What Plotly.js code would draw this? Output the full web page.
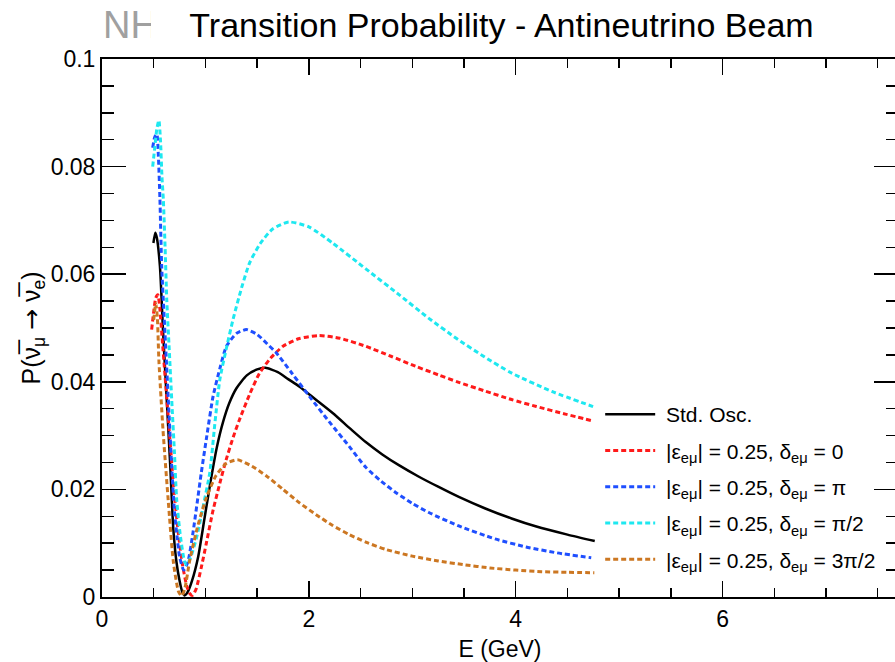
<!DOCTYPE html>
<html>
<head>
<meta charset="utf-8">
<script src="https://cdn.plot.ly/plotly-3.0.1.min.js"></script>
<style>
html,body{margin:0;padding:0;overflow:hidden;background:#fff;}
#chart{width:898px;height:662px;}
</style>
</head>
<body>
<div id="chart"></div>
<script>
// ---- Data (E in GeV, P probability) ----
const stdE = [0.497,0.515,0.53,0.56,0.59,0.625,0.66,0.69,0.72,0.75,0.775,0.80,0.83,0.87,0.93,0.99,1.05,1.11,1.17,1.23,1.30,1.40,1.50,1.58,1.70,1.80,1.91,2.06,2.23,2.40,2.55,2.71,2.87,3.06,3.25,3.45,3.70,3.96,4.20,4.50,4.764];
const stdP = [0.0658,0.0677,0.0668,0.0615,0.0495,0.037,0.0243,0.0125,0.0065,0.003,0.001,0.0003,0.001,0.003,0.0075,0.0145,0.0215,0.0278,0.0325,0.036,0.0388,0.0412,0.0423,0.0426,0.0418,0.0405,0.0391,0.0368,0.0342,0.0313,0.0288,0.0265,0.0245,0.0224,0.0205,0.0186,0.0165,0.0146,0.0131,0.0116,0.0104];

const d0E = [0.48,0.50,0.52,0.54,0.56,0.58,0.61,0.64,0.67,0.70,0.74,0.78,0.82,0.85,0.875,0.91,0.96,1.01,1.07,1.14,1.20,1.27,1.33,1.43,1.52,1.63,1.75,1.90,2.10,2.30,2.55,2.80,3.03,3.25,3.45,3.70,3.96,4.20,4.48,4.75];
const d0P = [0.0497,0.053,0.0556,0.0562,0.0535,0.0485,0.041,0.0335,0.026,0.019,0.0115,0.0058,0.002,0.0006,0.0003,0.0015,0.0055,0.0101,0.0158,0.0212,0.0255,0.0298,0.033,0.0378,0.0415,0.0444,0.0466,0.048,0.0486,0.0481,0.0466,0.0447,0.0429,0.0413,0.0399,0.0383,0.0367,0.0354,0.034,0.0327];

const dPiE = [0.49,0.51,0.53,0.545,0.56,0.577,0.609,0.641,0.674,0.70,0.722,0.75,0.79,0.83,0.88,0.96,1.01,1.074,1.14,1.203,1.30,1.396,1.50,1.60,1.684,1.84,2.005,2.20,2.39,2.55,2.70,2.85,3.0,3.16,3.45,3.80,4.10,4.40,4.73];
const dPiP = [0.0835,0.0855,0.086,0.082,0.074,0.0615,0.049,0.0367,0.0243,0.016,0.0119,0.0075,0.005,0.0065,0.012,0.0231,0.0295,0.0373,0.0425,0.0466,0.049,0.0497,0.0488,0.047,0.0454,0.0415,0.0373,0.0325,0.028,0.0241,0.0215,0.0193,0.0174,0.0157,0.0132,0.0108,0.0093,0.0082,0.0073];

const dHalfPiE = [0.49,0.51,0.53,0.55,0.565,0.58,0.593,0.61,0.626,0.65,0.674,0.70,0.722,0.76,0.80,0.82,0.86,0.92,0.98,1.042,1.09,1.139,1.20,1.267,1.35,1.427,1.53,1.65,1.806,2.0,2.229,2.55,2.871,3.16,3.432,3.70,3.962,4.35,4.748];
const dHalfPiP = [0.080,0.0835,0.087,0.0886,0.085,0.078,0.0739,0.065,0.0553,0.046,0.0367,0.027,0.0181,0.011,0.0065,0.006,0.0075,0.0115,0.017,0.0231,0.032,0.0404,0.046,0.0516,0.0575,0.0621,0.0657,0.0684,0.0697,0.0688,0.0658,0.0610,0.0562,0.0518,0.0480,0.0446,0.0416,0.0382,0.0354];

const d3HalfPiE = [0.50,0.52,0.535,0.55,0.59,0.64,0.69,0.74,0.77,0.80,0.85,0.93,1.01,1.10,1.20,1.31,1.45,1.59,1.75,1.91,2.07,2.23,2.39,2.55,2.75,3.0,3.25,3.5,3.75,4.0,4.25,4.5,4.76];
const d3HalfPiP = [0.0515,0.0545,0.052,0.044,0.031,0.018,0.0065,0.001,0.0002,0.0015,0.007,0.0135,0.0185,0.0225,0.0248,0.0255,0.0243,0.0225,0.020,0.0175,0.0153,0.0133,0.0116,0.0102,0.0088,0.0076,0.0067,0.006,0.0054,0.005,0.0047,0.0046,0.0045];

const seriesNames = [
  ' Std. Osc.',
  ' |ε<sub>eμ</sub>| = 0.25, δ<sub>eμ</sub> = 0',
  ' |ε<sub>eμ</sub>| = 0.25, δ<sub>eμ</sub> = π',
  ' |ε<sub>eμ</sub>| = 0.25, δ<sub>eμ</sub> = π/2',
  ' |ε<sub>eμ</sub>| = 0.25, δ<sub>eμ</sub> = 3π/2'
];
const seriesColors = ['#000000','#ff1a1a','#1f4fff','#1ee8f0','#cc7722'];
const xTickVals = [0,2,4,6];
const yTickVals = [0,0.02,0.04,0.06,0.08,0.1];
const yTickText = ['0','0.02','0.04','0.06','0.08','0.1'];

const xs = [stdE,d0E,dPiE,dHalfPiE,d3HalfPiE];
const ys = [stdP,d0P,dPiP,dHalfPiP,d3HalfPiP];

const traces = xs.map((x,i)=>({
  type:'scatter', mode:'lines', x:x, y:ys[i], name:seriesNames[i],
  legendgroup:'g'+i, line:{shape:'spline', smoothing:0.6, color:seriesColors[i], width: i===0?2.5:3, dash: i===0?'solid':'5px,3px'}
}));

const FONT = 'Liberation Sans, Arial, Helvetica, sans-serif';
const L=101.5, R=898, T=59, B=597;
const px2x = p => (p-L)/(R-L);
const py2y = p => (B-p)/(B-T);

const layout = {
  width:898, height:662,
  margin:{l:101.5, r:0, t:59, b:65},
  paper_bgcolor:'#fff', plot_bgcolor:'#fff',
  font:{family:FONT, color:'#000'},
  title:{text:'Transition Probability - Antineutrino Beam', font:{family:FONT, size:34, color:'#000'},
         xref:'container', yref:'container', x:501.5/898, xanchor:'center', y:1-25/662, yanchor:'middle'},
  showlegend:true,
  legend:{x:px2x(600), xanchor:'left', y:py2y(394), yanchor:'top', bgcolor:'rgba(0,0,0,0)', borderwidth:0,
          font:{family:FONT, size:21, color:'#000'}, traceorder:'grouped', tracegroupgap:6, itemwidth:50},
  xaxis:{range:[0,7.696], tickvals:xTickVals, ticktext:xTickVals.map(String), ticks:'inside', ticklen:16, tickwidth:1.5, tickcolor:'#000',
         showline:true, linewidth:2, linecolor:'#000', mirror:'allticks', showgrid:false, zeroline:false,
         minor:{dtick:0.5, tick0:0, ticks:'inside', ticklen:9, tickwidth:1.5, tickcolor:'#000', showgrid:false},
         tickfont:{family:FONT, size:23, color:'#000'},
         title:{text:'E (GeV)', font:{family:FONT, size:23, color:'#000'}, standoff:12}},
  yaxis:{range:[0,0.1], tickvals:yTickVals, ticktext:yTickText, ticks:'inside', ticklen:24, tickwidth:1.5, tickcolor:'#000',
         showline:true, linewidth:2, linecolor:'#000', mirror:'allticks', showgrid:false, zeroline:false,
         minor:{dtick:0.005, tick0:0, ticks:'inside', ticklen:12, tickwidth:1.5, tickcolor:'#000', showgrid:false},
         tickfont:{family:FONT, size:23, color:'#000'},
         title:{text:'P(ν\u0305<sub>μ</sub> <span style="font-family:DejaVu Sans">→</span> ν\u0305<sub>e</sub>)', font:{family:FONT, size:25, color:'#000'}, standoff:3}},
  annotations:[
    {text:'NH', xref:'paper', yref:'paper', x:px2x(101), xanchor:'left', y:py2y(25), yanchor:'middle',
     width:48, align:'left', borderpad:0,
     showarrow:false, font:{family:FONT, size:38, color:'#a0a0a0'}}
  ]
};

Plotly.newPlot('chart', traces, layout, {displayModeBar:false, staticPlot:true});
</script>
</body>
</html>
